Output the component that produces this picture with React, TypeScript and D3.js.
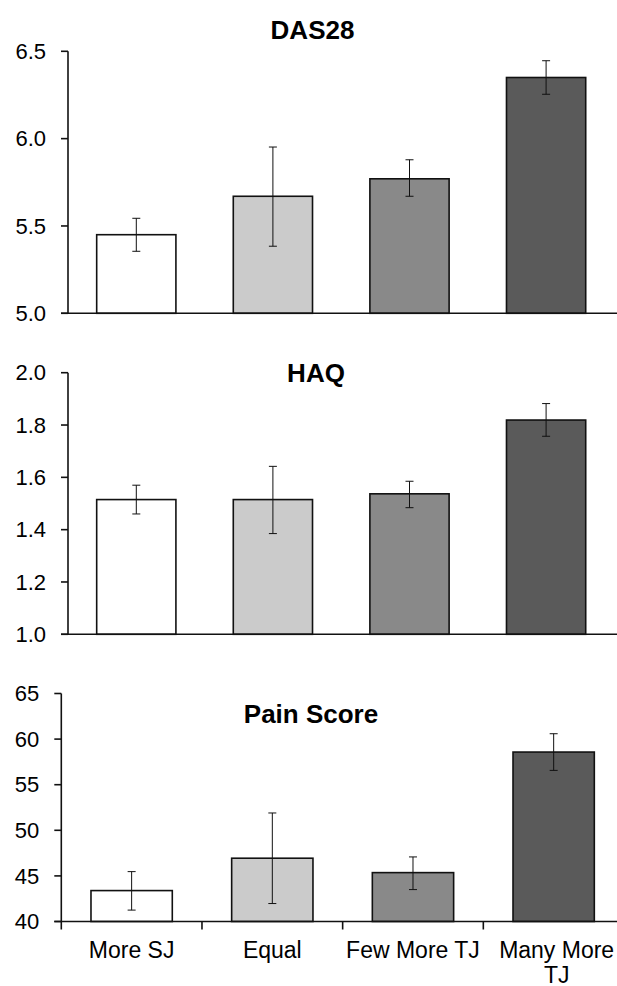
import React from "react";
import * as d3 from "d3";

const categories = ["More SJ", "Equal", "Few More TJ", "Many More TJ"];
const categoryLines = [["More SJ"], ["Equal"], ["Few More TJ"], ["Many More", "TJ"]];
const barColors = ["#ffffff", "#cbcbcb", "#898989", "#5a5a5a"];

const das28Mean = [5.45, 5.67, 5.77, 6.35];
const das28Low = [5.355, 5.384, 5.67, 6.254];
const das28High = [5.544, 5.952, 5.879, 6.446];
const das28Ticks = [5.0, 5.5, 6.0, 6.5];

const haqMean = [1.515, 1.515, 1.537, 1.819];
const haqLow = [1.46, 1.385, 1.484, 1.757];
const haqHigh = [1.57, 1.642, 1.585, 1.882];
const haqTicks = [1.0, 1.2, 1.4, 1.6, 1.8, 2.0];

const painMean = [43.39, 46.94, 45.36, 58.58];
const painLow = [41.25, 41.97, 43.5, 56.57];
const painHigh = [45.47, 51.9, 47.08, 60.59];
const painTicks = [40, 45, 50, 55, 60, 65];

const FONT = "'Liberation Sans', Arial, Helvetica, sans-serif";

type PanelProps = {
  title: string;
  titleX: number;
  titleY: number;
  mean: number[];
  low: number[];
  high: number[];
  ticks: number[];
  fmt: (v: number) => string;
  axisX: number;
  bandEnd: number;
  top: number;
  bottom: number;
  barFrac: number;
  catTicks: boolean;
  showLabels: boolean;
};

function Panel(p: PanelProps) {
  const domain = [p.ticks[0], p.ticks[p.ticks.length - 1]];
  const y = d3.scaleLinear().domain(domain).range([p.bottom, p.top]);
  const x = d3.scaleBand<string>().domain(categories).range([p.axisX, p.bandEnd]).padding(0);
  const bw = x.bandwidth() * p.barFrac;
  return (
    <g>
      <text x={p.titleX} y={p.titleY} textAnchor="middle" fontFamily={FONT} fontWeight="bold" fontSize={26} fill="#000">
        {p.title}
      </text>
      {categories.map((c, i) => {
        const cx = (x(c) as number) + x.bandwidth() / 2;
        return (
          <g key={c}>
            <rect
              x={cx - bw / 2}
              y={y(p.mean[i])}
              width={bw}
              height={p.bottom - y(p.mean[i])}
              fill={barColors[i]}
              stroke="#111"
              strokeWidth={1.6}
            />
            <line x1={cx} x2={cx} y1={y(p.high[i])} y2={y(p.low[i])} stroke="#111" strokeWidth={1} />
            <line x1={cx - 4} x2={cx + 4} y1={y(p.high[i])} y2={y(p.high[i])} stroke="#111" strokeWidth={1} />
            <line x1={cx - 4} x2={cx + 4} y1={y(p.low[i])} y2={y(p.low[i])} stroke="#111" strokeWidth={1} />
          </g>
        );
      })}
      {/* y axis */}
      <line x1={p.axisX} x2={p.axisX} y1={p.top} y2={p.bottom} stroke="#111" strokeWidth={1.6} />
      {p.ticks.map((t) => (
        <g key={t}>
          <line x1={p.axisX - 7} x2={p.axisX} y1={y(t)} y2={y(t)} stroke="#111" strokeWidth={1.6} />
          <text x={p.axisX - 22} y={y(t)} dy="0.35em" textAnchor="end" fontFamily={FONT} fontSize={22} fill="#000">
            {p.fmt(t)}
          </text>
        </g>
      ))}
      {/* x axis */}
      <line x1={p.axisX - 7} x2={617} y1={p.bottom} y2={p.bottom} stroke="#111" strokeWidth={1.6} />
      {p.catTicks &&
        categories.map((c) => (
          <line key={c} x1={x(c) as number} x2={x(c) as number} y1={p.bottom} y2={p.bottom + 8} stroke="#111" strokeWidth={1.6} />
        ))}
      {p.showLabels &&
        categoryLines.map((lines, i) => {
          const cx = (x(categories[i]) as number) + x.bandwidth() / 2;
          return (
            <text key={i} textAnchor="middle" fontFamily={FONT} fontSize={23} fill="#000">
              {lines.map((l, j) => (
                <tspan key={j} x={cx + (i === 3 ? 3 : 0)} y={p.bottom + 36 + j * 25}>
                  {l}
                </tspan>
              ))}
            </text>
          );
        })}
    </g>
  );
}

export default function App() {
  return (
    <svg width={617} height={986} style={{ position: "absolute", left: 0, top: 0, background: "#fff" }}>
      <rect x={0} y={0} width={617} height={986} fill="#fff" />
      <Panel
        title="DAS28"
        titleX={312.5}
        titleY={38.5}
        mean={das28Mean}
        low={das28Low}
        high={das28High}
        ticks={das28Ticks}
        fmt={d3.format(".1f")}
        axisX={68}
        bandEnd={614.4}
        top={51.3}
        bottom={313.3}
        barFrac={0.58}
        catTicks={false}
        showLabels={false}
      />
      <Panel
        title="HAQ"
        titleX={316}
        titleY={382}
        mean={haqMean}
        low={haqLow}
        high={haqHigh}
        ticks={haqTicks}
        fmt={d3.format(".1f")}
        axisX={68}
        bandEnd={614.4}
        top={372.7}
        bottom={634.3}
        barFrac={0.58}
        catTicks={false}
        showLabels={false}
      />
      <Panel
        title="Pain Score"
        titleX={311}
        titleY={723}
        mean={painMean}
        low={painLow}
        high={painHigh}
        ticks={painTicks}
        fmt={d3.format("d")}
        axisX={61.3}
        bandEnd={624}
        top={693.5}
        bottom={921.5}
        barFrac={0.578}
        catTicks={true}
        showLabels={true}
      />
    </svg>
  );
}
